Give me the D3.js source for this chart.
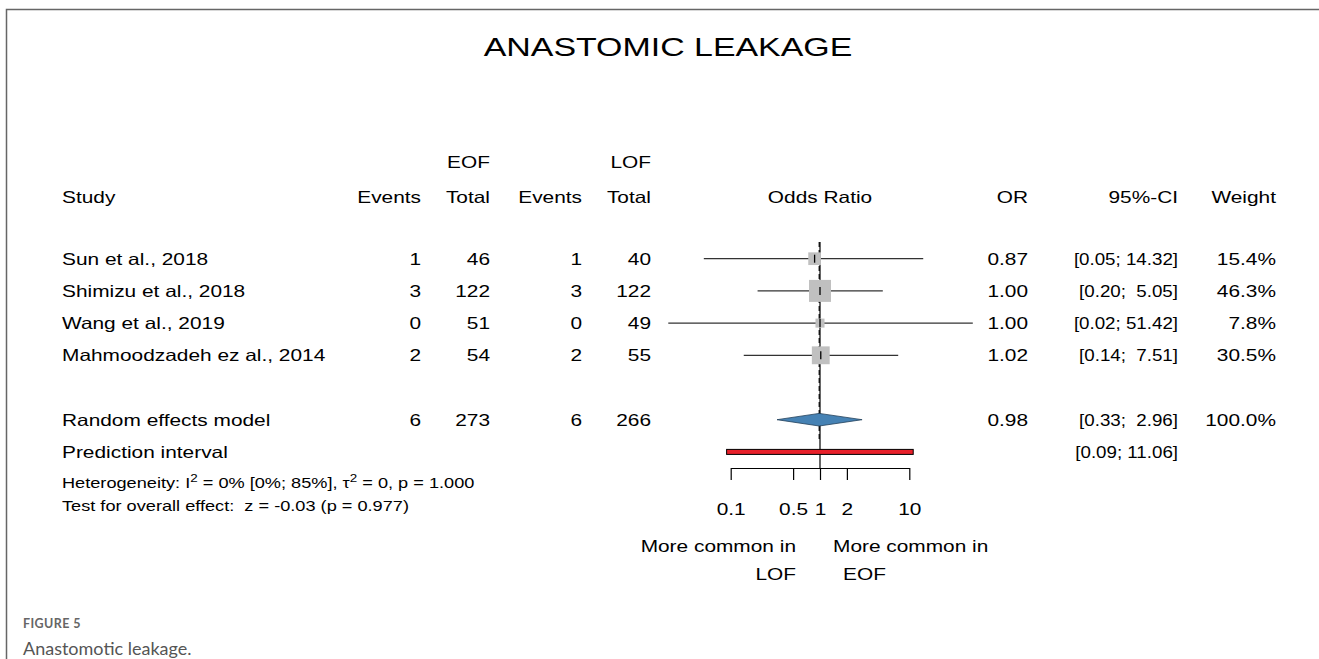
<!DOCTYPE html>
<html>
<head>
<meta charset="utf-8">
<script src="https://cdn.jsdelivr.net/npm/d3@7"></script>
<style>
  body { margin: 0; background: #fff; }
  .plot text { font-family: "Liberation Sans", Arial, Helvetica, sans-serif; fill: #000; white-space: pre; }
  .caption { font-family: Lato, "Open Sans", sans-serif; }
</style>
</head>
<body>
<div class="graph"></div>
<script>
const studies = ["Sun et al., 2018", "Shimizu et al., 2018", "Wang et al., 2019", "Mahmoodzadeh ez al., 2014"];
const eofEvents = [1, 3, 0, 2];
const eofTotal = [46, 122, 51, 54];
const lofEvents = [1, 3, 0, 2];
const lofTotal = [40, 122, 49, 55];
const oddsRatio = [0.87, 1.00, 1.00, 1.02];
const ciLow = [0.05, 0.20, 0.02, 0.14];
const ciHigh = [14.32, 5.05, 51.42, 7.51];
const weights = [15.4, 46.3, 7.8, 30.5];

const pooled = { or: 0.98, low: 0.33, high: 2.96, events: [6, 6], totals: [273, 266] };
const prediction = { low: 0.09, high: 11.06 };
const axisTicks = [0.1, 0.5, 1, 2, 10];

const width = 1319;
const height = 659;
const SX = 1.28; // picture is stretched sideways, text too

const svg = d3.select(".graph")
  .append("svg")
  .attr("width", width)
  .attr("height", height);

const plot = svg.append("g").attr("class", "plot");

function label(x, y, str, anchor = "start", size = 16.3, sx = SX) {
  return plot.append("text")
    .attr("transform", `translate(${x},${y}) scale(${sx},1)`)
    .attr("text-anchor", anchor)
    .style("font-size", size + "px")
    .text(str);
}

const x = d3.scaleLog()
  .domain([0.1, 10])
  .range([730.7, 909.3]);

// row index -> vertical centre
const row = d3.scaleLinear().domain([0, 1]).range([258.7, 290.9]);
const side = d3.scaleSqrt().domain([0, 46.3]).range([0, 22]);
const base = 5.8; // centre -> baseline

// frame
svg.append("path")
  .attr("d", `M6.5,${height}V9.5H${width}`)
  .attr("fill", "none")
  .attr("stroke", "#666")
  .attr("stroke-width", 1.5);

label(668, 56, "ANASTOMIC LEAKAGE", "middle", 26.5);

// headers
label(490, 168, "EOF", "end");
label(651, 168, "LOF", "end");
const hy = 203;
label(62, hy, "Study");
label(421, hy, "Events", "end");
label(490, hy, "Total", "end");
label(582, hy, "Events", "end");
label(651, hy, "Total", "end");
label(820, hy, "Odds Ratio", "middle");
label(1028, hy, "OR", "end");
label(1178, hy, "95%-CI", "end");
label(1276, hy, "Weight", "end");

// reference lines
plot.append("line")
  .attr("x1", x(1)).attr("x2", x(1))
  .attr("y1", 242).attr("y2", 468)
  .attr("stroke", "#000").attr("stroke-width", 1.2);
plot.append("line")
  .attr("x1", x(pooled.or)).attr("x2", x(pooled.or))
  .attr("y1", 242).attr("y2", 440)
  .attr("stroke", "#000").attr("stroke-width", 1.2)
  .attr("stroke-dasharray", "5,3");

// "[0.20;  5.05]" : pad the upper bound so the brackets line up
function ciText(y, lo, hi) {
  const h = hi.toFixed(2);
  const pad = h.length < 5 ? "  " : " ";
  label(1178, y, "[" + lo.toFixed(2) + ";" + pad + h + "]", "end", 16.3, 1.15);
}

studies.forEach((s, i) => {
  const cy = row(i);
  const ty = cy + base;
  label(62, ty, s);
  label(421, ty, eofEvents[i], "end");
  label(490, ty, eofTotal[i], "end");
  label(582, ty, lofEvents[i], "end");
  label(651, ty, lofTotal[i], "end");
  label(1028, ty, oddsRatio[i].toFixed(2), "end");
  ciText(ty, ciLow[i], ciHigh[i]);
  label(1276, ty, weights[i].toFixed(1) + "%", "end");

  plot.append("line")
    .attr("x1", x(ciLow[i])).attr("x2", x(ciHigh[i]))
    .attr("y1", cy).attr("y2", cy)
    .attr("stroke", "#333").attr("stroke-width", 1.3);
  const s2 = side(weights[i]);
  plot.append("rect")
    .attr("x", x(oddsRatio[i]) - s2 / 2)
    .attr("y", cy - s2 / 2)
    .attr("width", s2).attr("height", s2)
    .attr("fill", "#c0c0c0");
  plot.append("line")
    .attr("x1", x(oddsRatio[i])).attr("x2", x(oddsRatio[i]))
    .attr("y1", cy - 4).attr("y2", cy + 4)
    .attr("stroke", "#000").attr("stroke-width", 1.3);
});

// random effects
const ry = row(5);
label(62, ry + base, "Random effects model");
label(421, ry + base, pooled.events[0], "end");
label(490, ry + base, pooled.totals[0], "end");
label(582, ry + base, pooled.events[1], "end");
label(651, ry + base, pooled.totals[1], "end");
label(1028, ry + base, pooled.or.toFixed(2), "end");
ciText(ry + base, pooled.low, pooled.high);
label(1276, ry + base, "100.0%", "end");

plot.append("polygon")
  .attr("points", [
    [x(pooled.low), ry], [x(pooled.or), ry - 6.3],
    [x(pooled.high), ry], [x(pooled.or), ry + 6.3]
  ].map(p => p.join(",")).join(" "))
  .attr("fill", "#4682b4")
  .attr("stroke", "#22405a")
  .attr("stroke-width", 0.8);

// prediction interval
const py = row(6);
label(62, py + base, "Prediction interval");
ciText(py + base, prediction.low, prediction.high);
plot.append("rect")
  .attr("x", x(prediction.low))
  .attr("y", py - 2.5)
  .attr("width", x(prediction.high) - x(prediction.low))
  .attr("height", 5)
  .attr("fill", "#e8202a")
  .attr("stroke", "#000")
  .attr("stroke-width", 1);

// heterogeneity / overall effect
const small = 14.2;
const het = label(62, 488, "Heterogeneity: I", "start", small);
het.append("tspan").attr("dy", -6).style("font-size", "10.5px").text("2");
het.append("tspan").attr("dy", 6).text(" = 0% [0%; 85%], \u03c4");
het.append("tspan").attr("dy", -6).style("font-size", "10.5px").text("2");
het.append("tspan").attr("dy", 6).text(" = 0, p = 1.000");
label(62, 511, "Test for overall effect:  z = -0.03 (p = 0.977)", "start", small);

// axis
const axis = plot.append("g")
  .attr("transform", "translate(0,468)")
  .call(d3.axisBottom(x)
    .tickValues(axisTicks)
    .tickSize(12)
    .tickSizeOuter(0)
    .tickFormat(d => d));
axis.attr("font-size", null).attr("font-family", null);
axis.selectAll(".tick line").attr("stroke-width", 1.2);
axis.select(".domain").attr("stroke-width", 1.2);
axis.selectAll(".tick text")
  .attr("y", 47)
  .attr("dy", null)
  .attr("transform", `scale(${SX},1)`)
  .style("font-size", "16.3px");

label(796, 552, "More common in", "end");
label(796, 580, "LOF", "end");
label(833, 552, "More common in");
label(843, 580, "EOF");

// caption under the figure
svg.append("text")
  .attr("class", "caption")
  .attr("x", 23).attr("y", 628)
  .attr("fill", "#666")
  .style("font-size", "12.5px")
  .style("font-weight", "bold")
  .style("letter-spacing", "0.4px")
  .text("FIGURE 5");
svg.append("text")
  .attr("class", "caption")
  .attr("x", 23).attr("y", 655)
  .attr("fill", "#555")
  .style("font-size", "18px")
  .text("Anastomotic leakage.");
</script>
</body>
</html>
